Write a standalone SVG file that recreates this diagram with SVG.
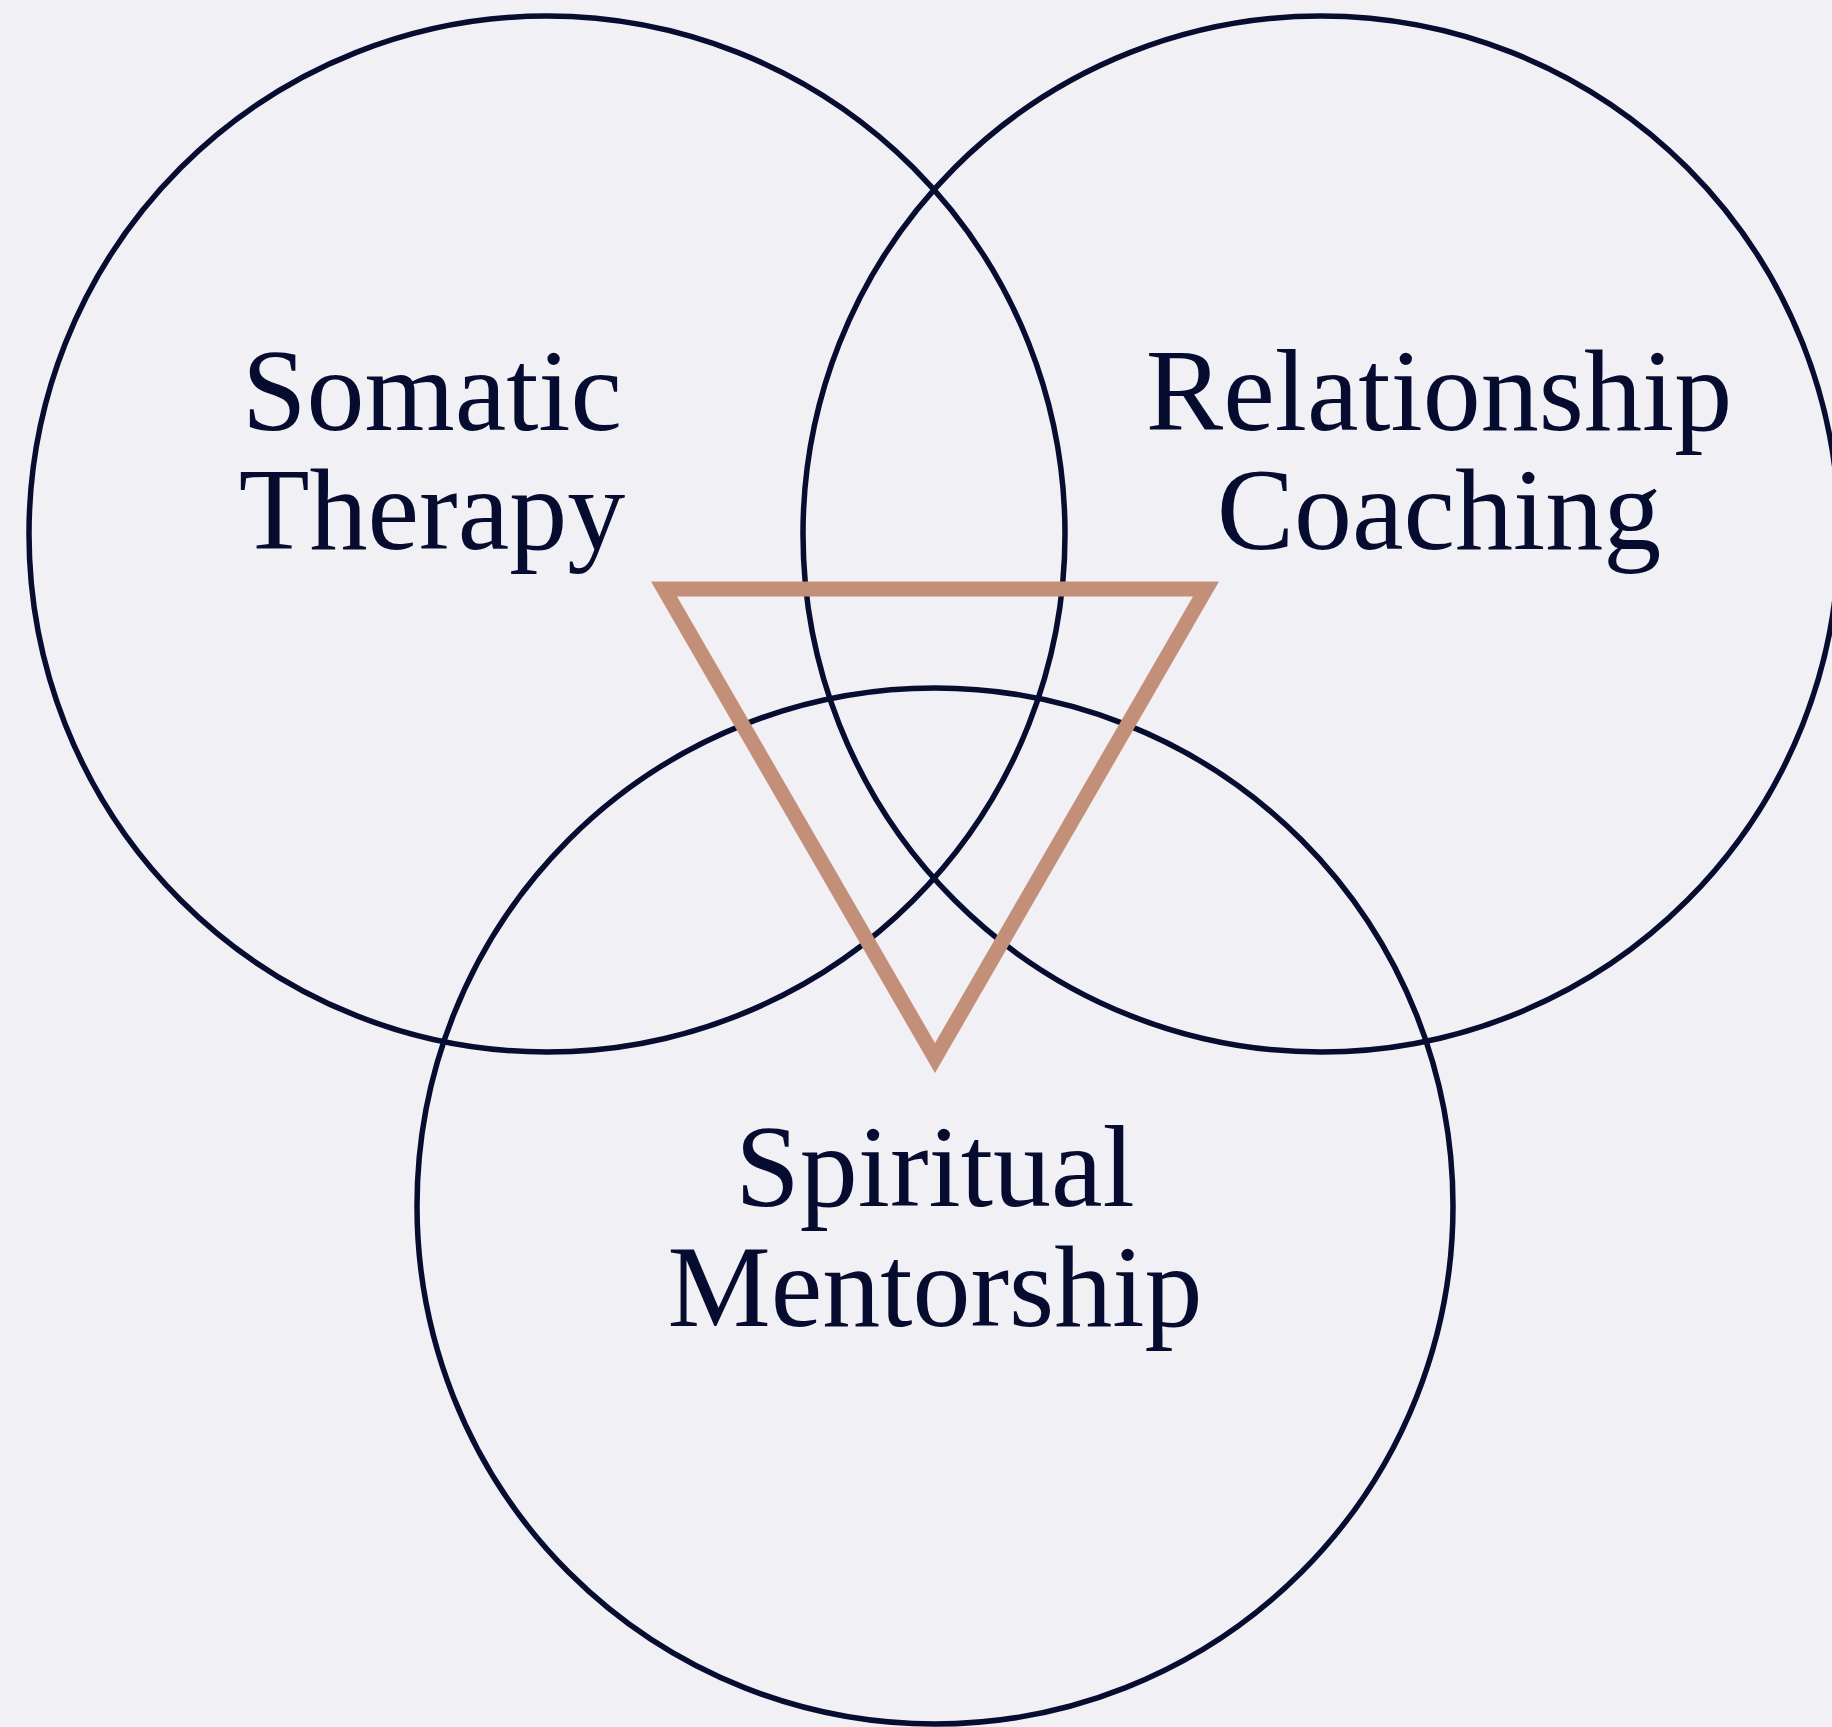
<svg xmlns="http://www.w3.org/2000/svg" width="1832" height="1727" viewBox="0 0 1832 1727">
  <style>
    .ring { fill: none; stroke: #070c31; stroke-width: 5.5; }
    .tri { fill: none; stroke: #c48f78; stroke-width: 15; stroke-linejoin: miter; stroke-miterlimit: 10; }
    .lbl { font-family: "Liberation Serif", "DejaVu Serif", serif; font-size: 116px; fill: #060b30; text-anchor: middle; }
  </style>
  <rect x="0" y="0" width="1832" height="1727" fill="#f1f0f5"/>
  <g id="node-somatic">
    <circle class="ring" cx="547" cy="534" r="518"/>
    <text class="lbl" x="432" y="430">Somatic</text>
    <text class="lbl" x="432" y="549">Therapy</text>
  </g>
  <g id="node-relationship">
    <circle class="ring" cx="1321" cy="534" r="518"/>
    <text class="lbl" x="1439" y="430">Relationship</text>
    <text class="lbl" x="1439" y="549">Coaching</text>
  </g>
  <g id="node-spiritual">
    <circle class="ring" cx="935" cy="1206" r="518"/>
    <text class="lbl" x="935" y="1206">Spiritual</text>
    <text class="lbl" x="935" y="1326">Mentorship</text>
  </g>
  <g id="connectors">
    <polygon class="tri" points="664,589 1206,589 935,1058"/>
  </g>
</svg>
